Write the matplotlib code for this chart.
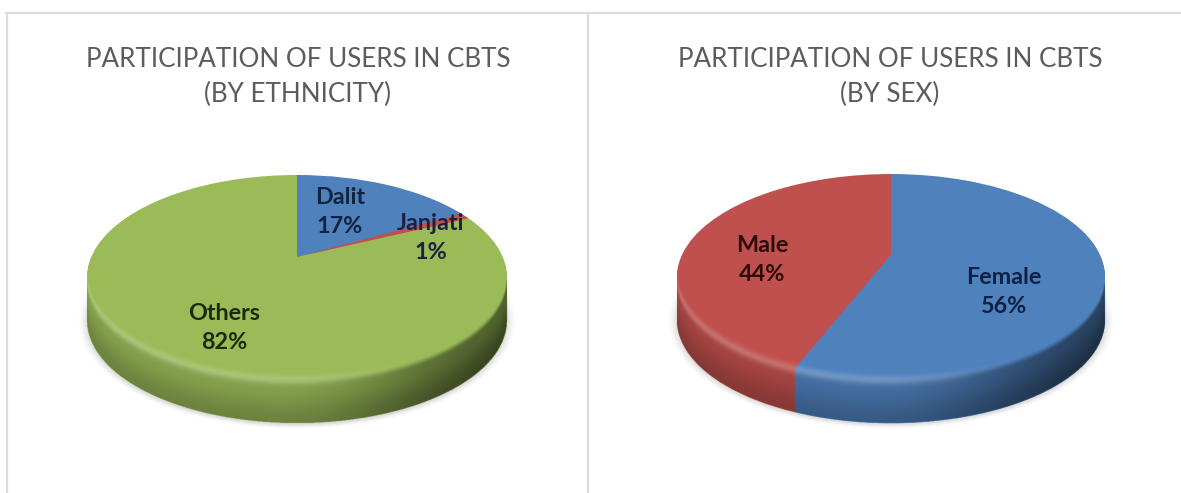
import numpy as np
import matplotlib
matplotlib.use("Agg")
import matplotlib.pyplot as plt
from matplotlib.lines import Line2D
from matplotlib.path import Path
from matplotlib.transforms import Affine2D, Transform

W, H = 1181, 493

# Datos
eth_labels = ["Dalit", "Janjati", "Others"]
eth_values = [17, 1, 82]
eth_colors = ["#4F81BD", "#C0504D", "#9BBB59"]
eth_title = "PARTICIPATION OF USERS IN CBTS\n(BY ETHNICITY)"
eth_text_pos = [(340, 212), (431, 238), (224, 328)]
eth_text_col = ["#10233f", "#1e2040", "#1c2a08"]

sex_labels = ["Female", "Male"]
sex_values = [56, 44]
sex_colors = ["#4F81BD", "#C0504D"]
sex_title = "PARTICIPATION OF USERS IN CBTS\n(BY SEX)"
sex_text_pos = [(1004, 292), (762, 260)]
sex_text_col = ["#0e2144", "#2c0a0a"]

plt.rcParams['font.family'] = ['Lato', 'DejaVu Sans']


class Perspectiva(Transform):
    # Inclina el disco: el centro sube k y el circulo unidad sigue en su sitio
    input_dims = 2
    output_dims = 2

    def __init__(self, k):
        super().__init__()
        self.k = k

    def transform_non_affine(self, xy):
        xy = np.asarray(xy, dtype=float)
        w = 1 + self.k*xy[:, 1]
        return np.column_stack((np.sqrt(1 - self.k**2)*xy[:, 0]/w, (xy[:, 1] + self.k)/w))

    def transform_path_non_affine(self, path):
        return Path(self.transform_non_affine(path.vertices), path.codes)


def smooth(a, b, v):
    t = np.clip((v - a)/(b - a), 0, 1)
    return t*t*(3 - 2*t)


def pie3d(fig, values, colors, cx, cy, rx, ry, depth, k):
    xlim = (-1.2, 1.2)
    ylim = (-1.3 - depth, 1.2)
    left = cx + xlim[0]*rx
    bottom = H - cy + ylim[0]*ry
    ax = fig.add_axes([left/W, bottom/H, (xlim[1] - xlim[0])*rx/W, (ylim[1] - ylim[0])*ry/H])
    ax.axis('off')
    persp = Perspectiva(k)

    # Rejilla para sombreado
    nx = int((xlim[1] - xlim[0])*rx*2)
    ny = int((ylim[1] - ylim[0])*ry*2)
    X, Y = np.meshgrid(np.linspace(xlim[0], xlim[1], nx), np.linspace(ylim[1], ylim[0], ny))
    r_top = np.hypot(X, Y)
    r_bot = np.hypot(X, Y + depth)
    rim = -np.sqrt(np.clip(1 - X**2, 0, 1))
    inside = (r_top <= 1) | (r_bot <= 1) | ((np.abs(X) <= 1) & (Y < 0) & (Y > -depth))
    d = (rim - Y)/depth
    h = (X + 1)/2

    # Sombra suave bajo la tarta
    shadow = np.zeros(X.shape + (4,))
    shadow[..., 3] = 0.22*(1 - smooth(0.96, 1.05, np.hypot(X, (Y + depth + 0.015)/1.0)))
    ax.imshow(shadow, extent=(*xlim, *ylim), aspect='auto', zorder=1, interpolation='bilinear')

    # Lateral: la misma tarta repetida hacia abajo
    for s in np.linspace(depth, 0.01, 40):
        shift = persp + Affine2D().translate(0, -s) + ax.transData
        wedges, _ = ax.pie(values, colors=colors, startangle=90, counterclock=False,
                           wedgeprops={'linewidth': 0})
        for w in wedges:
            w.set_transform(shift)
            w.set_zorder(2)
    wedges, _ = ax.pie(values, colors=colors, startangle=90, counterclock=False,
                       wedgeprops={'linewidth': 0})
    for w in wedges:
        w.set_transform(persp + ax.transData)
        w.set_zorder(3)

    # Oscurecer el lateral hacia la derecha y abajo
    dark = np.zeros(X.shape + (4,))
    a = 0.14 + 0.16*smooth(0.1, 1, d) + 0.34*smooth(0.45, 1.0, h)
    dark[..., 3] = a*smooth(-0.06, 0.12, d)*inside
    ax.imshow(dark, extent=(*xlim, *ylim), aspect='auto', zorder=4, interpolation='bilinear')

    # Brillo del borde
    light = np.ones(X.shape + (4,))
    band = np.exp(-((d - 0.02)/0.11)**2)*(1 - smooth(0.45, 0.85, h))
    light[..., 3] = 0.2*band*inside
    ax.imshow(light, extent=(*xlim, *ylim), aspect='auto', zorder=5, interpolation='bilinear')

    ax.set_aspect('auto')
    ax.set_xlim(*xlim)
    ax.set_ylim(*ylim)


def etiquetas(fig, labels, values, pos, cols):
    for lab, v, (x, y), c in zip(labels, values, pos, cols):
        fig.text(x/W, 1 - y/H, f"{lab}\n{v}%", ha='center', va='center', fontsize=16.8,
                 fontweight='bold', color=c, linespacing=1.48, zorder=10)


fig = plt.figure(figsize=(W/100, H/100), dpi=100, facecolor='white')

# Marco de los paneles
for xs, ys in [((6, W), (13, 13)), ((6.5, 6.5), (13, H)), ((587.5, 587.5), (13, H))]:
    fig.add_artist(Line2D([x/W for x in xs], [1 - y/H for y in ys], color='#dcdcdc', lw=1.6))

pie3d(fig, eth_values, eth_colors, 297, 277.5, 210, 102.5, 0.42, 0.2)
pie3d(fig, sex_values, sex_colors, 891, 277, 214, 103, 0.42, 0.22)

fig.text(298/W, 1 - 77/H, eth_title, ha='center', va='center', fontsize=18.7, color='#5c5c5c', linespacing=1.45)
fig.text(890/W, 1 - 77/H, sex_title, ha='center', va='center', fontsize=18.7, color='#5c5c5c', linespacing=1.45)

etiquetas(fig, eth_labels, eth_values, eth_text_pos, eth_text_col)
etiquetas(fig, sex_labels, sex_values, sex_text_pos, sex_text_col)

fig.savefig("out.png", dpi=100, facecolor='white')
